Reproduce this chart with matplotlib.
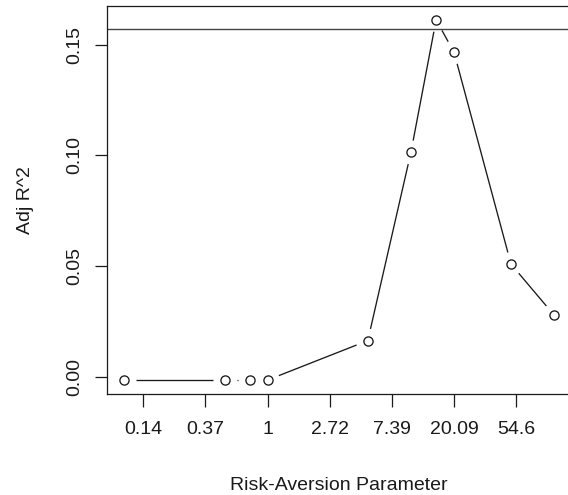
import numpy as np
import matplotlib
matplotlib.use("Agg")
import matplotlib.pyplot as plt

# Risk-aversion parameter values and the resulting adjusted R^2
risk_aversion = [0.1, 0.5, 0.75, 1, 5, 10, 15, 20, 50, 100]
adj_r2 = [-0.0015, -0.0015, -0.0015, -0.0015, 0.0163, 0.1014, 0.1613, 0.1467, 0.0509, 0.0278]
reference_r2 = 0.1571

tick_logs = [-2, -1, 0, 1, 2, 3, 4]
tick_labels = ["0.14", "0.37", "1", "2.72", "7.39", "20.09", "54.6"]
ytick_vals = [0.00, 0.05, 0.10, 0.15]
ytick_labels = ["0.00", "0.05", "0.10", "0.15"]

plt.rcParams["font.family"] = ["Liberation Sans", "DejaVu Sans"]

W, H, DPI = 568, 495, 100
fig = plt.figure(figsize=(W / DPI, H / DPI), dpi=DPI)

# plot region in pixels (right edge runs just past the canvas)
left_px, right_px, top_px, bottom_px = 107.3, 571.3, 5.5, 394.4
ax = fig.add_axes([left_px / W, 1 - bottom_px / H,
                   (right_px - left_px) / W, (bottom_px - top_px) / H])

x = np.log(np.array(risk_aversion))
y = np.array(adj_r2)


def padded(lo, hi, frac=0.04):
    r = hi - lo
    return lo - frac * r, hi + frac * r


ax.set_xlim(*padded(x.min(), x.max()))
ax.set_ylim(*padded(y.min(), y.max()))

ink = "#1a1a1a"

# reference level
ax.axhline(reference_r2, color="#444444", lw=1.0, zorder=1)

# "both" style: points joined by segments that stop short of each marker
gap_px = 12.0
pts = ax.transData.transform(np.column_stack([x, y]))
inv = ax.transData.inverted()
for (x0, y0), (x1, y1) in zip(pts[:-1], pts[1:]):
    d = np.hypot(x1 - x0, y1 - y0)
    if d <= 2 * gap_px:
        continue
    ux, uy = (x1 - x0) / d, (y1 - y0) / d
    a = inv.transform((x0 + ux * gap_px, y0 + uy * gap_px))
    b = inv.transform((x1 - ux * gap_px, y1 - uy * gap_px))
    ax.plot([a[0], b[0]], [a[1], b[1]], color=ink, lw=0.95, solid_capstyle="butt", zorder=2)

ax.plot(x, y, linestyle="none", marker="o", markersize=6.6, markerfacecolor="white",
        markeredgecolor=ink, markeredgewidth=0.95, zorder=3)

ax.set_xticks(tick_logs)
ax.set_xticklabels(tick_labels)
ax.set_yticks(ytick_vals)
ax.set_yticklabels(ytick_labels)

for s in ax.spines.values():
    s.set_color(ink)
    s.set_linewidth(0.9)

ax.tick_params(axis="x", direction="out", length=9.0, width=0.9, color=ink,
               labelsize=14, labelcolor=ink, pad=10)
ax.tick_params(axis="y", direction="out", length=8.5, width=0.9, color=ink,
               labelsize=14, labelcolor=ink, pad=9)
for lab in ax.get_yticklabels():
    lab.set_rotation(90)
    lab.set_va("center")

cx = (left_px + right_px) / 2 / W
cy = 1 - (top_px + bottom_px) / 2 / H
fig.text(cx, 1 - 485 / H, "Risk-Aversion Parameter", ha="center", va="center",
         fontsize=14, color=ink)
fig.text(25 / W, cy, "Adj R^2", ha="center", va="center", rotation=90,
         fontsize=14, color=ink)

fig.savefig("out.png", dpi=DPI)
